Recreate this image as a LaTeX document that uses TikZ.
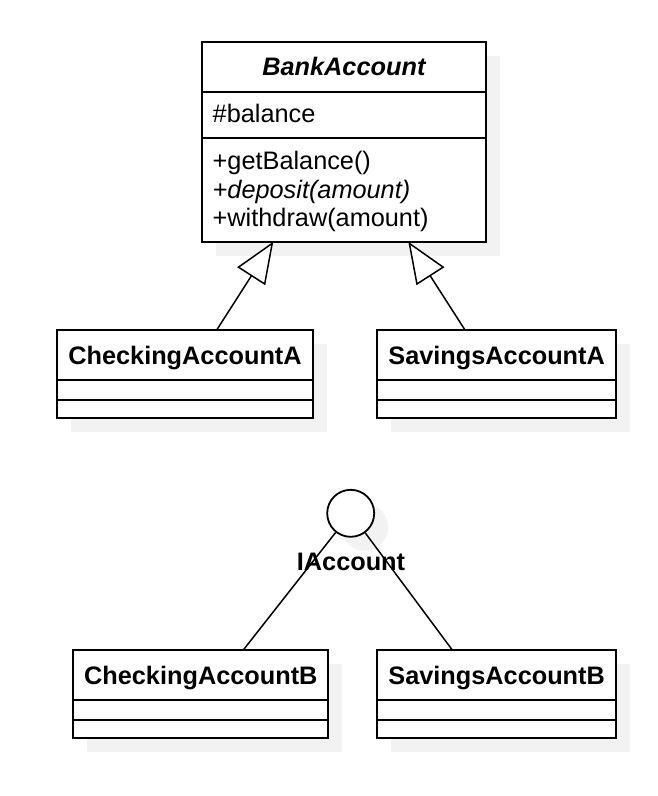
\documentclass[tikz,border=0pt]{standalone}
\usepackage{fontspec}
\setmainfont{Liberation Sans}
\usetikzlibrary{calc,arrows.meta,shadows}
\definecolor{shadowc}{HTML}{F2F2F2}
\begin{document}
\begin{tikzpicture}[x=1pt,y=-1pt,
  umlbox/.style={draw=black,line width=2pt,fill=white,rectangle,anchor=north west,
    inner sep=0pt,outer sep=0pt,
    drop shadow={shadow xshift=14pt,shadow yshift=-14pt,fill=shadowc,opacity=1}},
  divider/.style={draw=black,line width=2pt},
  txt/.style={inner sep=0pt,outer sep=0pt,font=\fontsize{25.3}{30}\selectfont},
  ttl/.style={txt,font=\fontsize{25.3}{30}\selectfont\bfseries,anchor=base},
  conn/.style={draw=black,line width=1.5pt},
  gen/.style={conn,-{Triangle[length=41pt,width=33pt,fill=white,line width=1.5pt]}},
  iface/.style={circle,draw=black,line width=1.8pt,fill=white,minimum size=47pt,inner sep=0pt,
    drop shadow={shadow xshift=14pt,shadow yshift=-14pt,fill=shadowc,opacity=1}}
]
\useasboundingbox (0,0) rectangle (658,796);
\fill[white] (0,0) rectangle (658,796);

% BankAccount
\node[umlbox,minimum width=284.3pt,minimum height=199.4pt] (ba) at (201.7,42.3) {};
\draw[divider] ($(ba.north west)+(0,49.4)$) -- ($(ba.north east)+(0,49.4)$);
\draw[divider] ($(ba.north west)+(0,95.4)$) -- ($(ba.north east)+(0,95.4)$);
\node[ttl,font=\fontsize{25.3}{30}\selectfont\bfseries\itshape] (batitle) at (343.9,75) {BankAccount};
\node[txt,anchor=base west] (baattr) at (212.7,122.5) {\#balance};
\node[txt,anchor=base west] (bam1) at (212.7,169.5) {+getBalance()};
\node[txt,anchor=base west] (bam2) at (212.7,198) {\textit{+deposit(amount)}};
\node[txt,anchor=base west] (bam3) at (212.7,226.5) {+withdraw(amount)};

% CheckingAccountA
\node[umlbox,minimum width=255.4pt,minimum height=87.7pt] (ca) at (57.3,330) {};
\draw[divider] ($(ca.north west)+(0,50.3)$) -- ($(ca.north east)+(0,50.3)$);
\draw[divider] ($(ca.north west)+(0,69.7)$) -- ($(ca.north east)+(0,69.7)$);
\node[ttl] (catitle) at (185,364) {CheckingAccountA};

% SavingsAccountA
\node[umlbox,minimum width=238.7pt,minimum height=87.7pt] (sa) at (377.3,330) {};
\draw[divider] ($(sa.north west)+(0,50.3)$) -- ($(sa.north east)+(0,50.3)$);
\draw[divider] ($(sa.north west)+(0,69.7)$) -- ($(sa.north east)+(0,69.7)$);
\node[ttl] (satitle) at (496.65,364) {SavingsAccountA};

% generalizations
\draw[gen] ($(ca.north west)+(159.4,0)$) -- ($(ba.south west)+(71.6,0)$);
\draw[gen] ($(sa.north west)+(87.7,0)$) -- ($(ba.south west)+(206.6,0)$);

% Interface
\node[iface] (ia) at (350.7,513.3) {};
\node[ttl] (ialabel) at (351,570.7) {IAccount};

% CheckingAccountB
\node[umlbox,minimum width=255pt,minimum height=87.7pt] (cb) at (73.3,650) {};
\draw[divider] ($(cb.north west)+(0,50.3)$) -- ($(cb.north east)+(0,50.3)$);
\draw[divider] ($(cb.north west)+(0,69.7)$) -- ($(cb.north east)+(0,69.7)$);
\node[ttl] (cbtitle) at (200.8,684) {CheckingAccountB};

% SavingsAccountB
\node[umlbox,minimum width=238.7pt,minimum height=87.7pt] (sb) at (377.3,650) {};
\draw[divider] ($(sb.north west)+(0,50.3)$) -- ($(sb.north east)+(0,50.3)$);
\draw[divider] ($(sb.north west)+(0,69.7)$) -- ($(sb.north east)+(0,69.7)$);
\node[ttl] (sbtitle) at (496.65,684) {SavingsAccountB};

% realizations (lollipop)
\draw[conn] ($(cb.north west)+(170,0)$) -- (ia);
\draw[conn] ($(sb.north west)+(75,0)$) -- (ia);
\end{tikzpicture}
\end{document}
